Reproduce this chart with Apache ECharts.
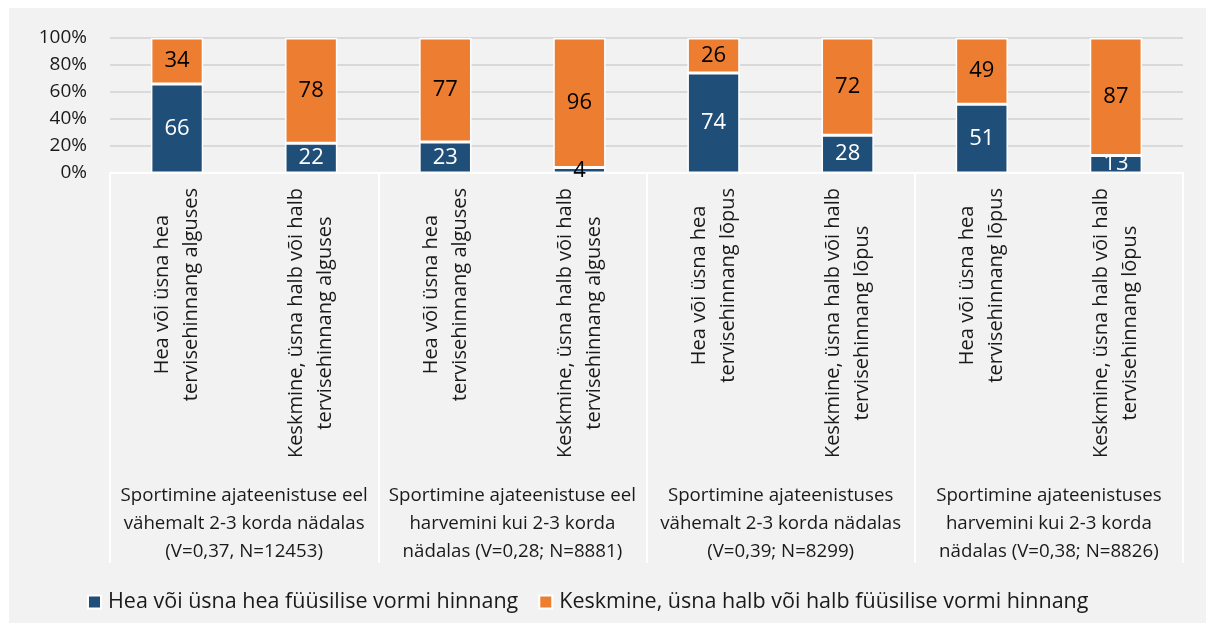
<!DOCTYPE html>
<html>
<head>
<meta charset="utf-8">
<script src="https://cdn.jsdelivr.net/npm/echarts@6/dist/echarts.min.js"></script>
<style>
  html, body { margin: 0; padding: 0; background: #fff; }
  #wrap { position: relative; width: 1206px; height: 623px; background: #fff; }
  #main { position: absolute; left: 9px; top: 8px; width: 1197px; height: 615px; background: #f2f2f2; }
</style>
</head>
<body>
<div id="wrap"><div id="main"></div></div>
<script>
// categories (inner level, one per bar)
var categories = [
    'Hea või üsna hea\ntervisehinnang alguses',
    'Keskmine, üsna halb või halb\ntervisehinnang alguses',
    'Hea või üsna hea\ntervisehinnang alguses',
    'Keskmine, üsna halb või halb\ntervisehinnang alguses',
    'Hea või üsna hea\ntervisehinnang lõpus',
    'Keskmine, üsna halb või halb\ntervisehinnang lõpus',
    'Hea või üsna hea\ntervisehinnang lõpus',
    'Keskmine, üsna halb või halb\ntervisehinnang lõpus'
];
// outer level, one per pair of bars
var groups = [
    'Sportimine ajateenistuse eel\nvähemalt 2-3 korda nädalas\n(V=0,37, N=12453)',
    'Sportimine ajateenistuse eel\nharvemini kui 2-3 korda\nnädalas (V=0,28; N=8881)',
    'Sportimine ajateenistuses\nvähemalt 2-3 korda nädalas\n(V=0,39; N=8299)',
    'Sportimine ajateenistuses\nharvemini kui 2-3 korda\nnädalas (V=0,38; N=8826)'
];
var seriesNames = [
    'Hea või üsna hea füüsilise vormi hinnang',
    'Keskmine, üsna halb või halb füüsilise vormi hinnang'
];
var goodValues = [66, 22, 23, 4, 74, 28, 51, 13];
var badValues = [34, 78, 77, 96, 26, 72, 49, 87];

var FONT = '"Open Sans", "Noto Sans", sans-serif';
var TEXT = '#1a1a1a';

var myChart = echarts.init(document.getElementById('main'));

var option = {
    animation: false,
    textStyle: { fontFamily: FONT },
    grid: {
        left: 101,
        right: 23,
        top: 30,
        bottom: 450
    },
    legend: {
        left: 73,
        top: 578,
        itemWidth: 13,
        itemHeight: 13,
        itemGap: 20,
        icon: 'rect',
        textStyle: { fontSize: 21.5, color: TEXT, fontFamily: FONT, padding: [0, 0, 0, 2] },
        data: seriesNames
    },
    xAxis: [
        {
            type: 'category',
            data: categories,
            position: 'bottom',
            axisLine: { show: false },
            axisTick: { show: false },
            axisLabel: {
                interval: 0,
                rotate: 90,
                margin: 15,
                color: TEXT,
                fontSize: 20,
                lineHeight: 29,
                fontFamily: FONT,
                formatter: function (v) {
                    return v.split('\n').map(function (s) { return '{c|' + s + '}'; }).join('\n');
                },
                rich: {
                    c: { align: 'center', fontSize: 20, lineHeight: 29, color: TEXT, fontFamily: FONT }
                }
            }
        },
        {
            type: 'category',
            data: groups,
            position: 'bottom',
            axisLine: { show: true, lineStyle: { color: '#fff', width: 2 } },
            axisTick: {
                show: true,
                length: 390,
                lineStyle: { color: '#fff', width: 2 }
            },
            axisLabel: {
                interval: 0,
                margin: 309,
                color: TEXT,
                fontSize: 18.7,
                lineHeight: 28,
                fontFamily: FONT,
                align: 'center'
            }
        }
    ],
    yAxis: {
        type: 'value',
        min: 0,
        max: 100,
        interval: 20,
        axisLine: { show: false },
        axisTick: { show: false },
        axisLabel: {
            formatter: '{value}%',
            color: TEXT,
            fontSize: 19,
            margin: 23,
            fontFamily: FONT
        },
        splitLine: { lineStyle: { color: '#d9d9d9', width: 2 } }
    },
    series: [
        {
            name: seriesNames[0],
            type: 'bar',
            stack: 'total',
            barWidth: '39%',
            itemStyle: { color: '#1f4e79', borderColor: '#fff', borderWidth: 1.5 },
            label: {
                show: true,
                position: 'inside',
                color: '#fff',
                fontSize: 22,
                fontFamily: FONT
            },
            data: goodValues.map(function (v) {
                return v < 10 ? { value: v, label: { color: '#000' } } : v;
            })
        },
        {
            name: seriesNames[1],
            type: 'bar',
            stack: 'total',
            barWidth: '39%',
            itemStyle: { color: '#ed7d31', borderColor: '#fff', borderWidth: 1.5 },
            label: {
                show: true,
                position: 'inside',
                color: '#000',
                fontSize: 22,
                fontFamily: FONT
            },
            data: badValues
        }
    ]
};

myChart.setOption(option);
</script>
</body>
</html>
